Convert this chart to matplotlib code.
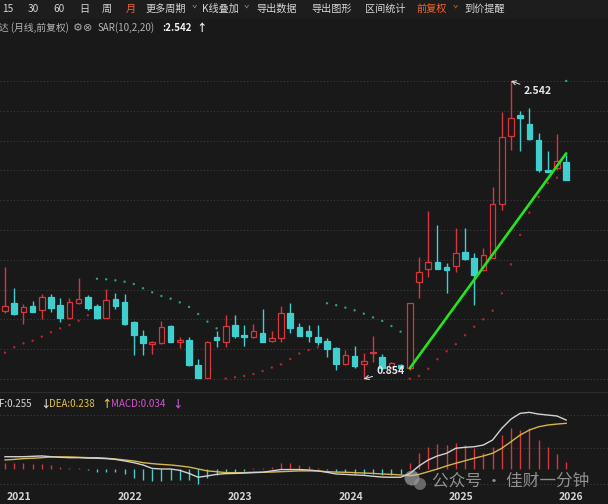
import matplotlib
matplotlib.use('Agg')
import matplotlib.pyplot as plt
from matplotlib.patches import Rectangle, Circle
import matplotlib.transforms as mtransforms
import numpy as np

plt.rcParams['font.family'] = ['Noto Sans CJK SC', 'DejaVu Sans']

# ---------------- data ----------------
year_ticks = [0, 12, 24, 36, 48, 60]
year_labels = ['2021', '2022', '2023', '2024', '2025', '2026']

opens = [1.241, 1.284, 1.232, 1.266, 1.243, 1.318, 1.271, 1.201, 1.283, 1.318,
         1.266, 1.201, 1.305, 1.290, 1.175, 1.098, 1.051, 1.060, 1.156, 1.065,
         1.075, 0.932, 0.862, 1.093, 1.065, 1.160, 1.103, 1.090, 1.116, 1.071,
         1.088, 1.226, 1.150, 1.128, 1.094, 1.069, 1.031, 0.941, 0.986, 0.937,
         1.001, 0.979, 0.922, 0.933, 0.915, 1.405, 1.475, 1.515, 1.488, 1.492,
         1.573, 1.539, 1.471, 1.541, 1.844, 2.232, 2.348, 2.300, 2.208, 2.036,
         2.047, 2.081]
closes = [1.269, 1.220, 1.264, 1.235, 1.317, 1.258, 1.198, 1.288, 1.309, 1.258,
          1.201, 1.300, 1.267, 1.166, 1.103, 1.060, 1.062, 1.150, 1.065, 1.075,
          0.933, 0.860, 1.062, 1.075, 1.156, 1.098, 1.090, 1.124, 1.065, 1.085,
          1.226, 1.141, 1.099, 1.099, 1.065, 1.024, 0.941, 0.990, 0.928, 0.956,
          1.005, 0.915, 0.942, 0.915, 1.282, 1.462, 1.515, 1.479, 1.473, 1.566,
          1.532, 1.443, 1.555, 1.844, 2.223, 2.334, 2.331, 2.212, 2.038, 2.026,
          2.090, 1.981]
highs = [1.490, 1.371, 1.277, 1.298, 1.335, 1.334, 1.311, 1.311, 1.424, 1.330,
         1.281, 1.362, 1.343, 1.334, 1.183, 1.132, 1.068, 1.181, 1.158, 1.094,
         1.090, 0.966, 1.071, 1.127, 1.216, 1.215, 1.160, 1.164, 1.250, 1.126,
         1.267, 1.286, 1.170, 1.160, 1.160, 1.085, 1.034, 1.018, 1.041, 1.000,
         1.099, 0.994, 0.950, 0.939, 1.284, 1.543, 1.806, 1.726, 1.509, 1.708,
         1.708, 1.566, 1.598, 1.943, 2.368, 2.542, 2.374, 2.387, 2.246, 2.147,
         2.242, 2.123]
lows = [1.226, 1.216, 1.164, 1.232, 1.192, 1.235, 1.175, 1.194, 1.279, 1.245,
        1.194, 1.198, 1.249, 1.160, 0.990, 0.990, 0.996, 1.051, 1.063, 1.031,
        0.929, 0.857, 0.859, 1.036, 1.037, 1.088, 1.043, 1.085, 1.062, 1.062,
        1.065, 1.115, 1.099, 1.062, 1.047, 0.980, 0.905, 0.933, 0.918, 0.854,
        0.952, 0.905, 0.911, 0.911, 0.905, 1.315, 1.433, 1.479, 1.339, 1.462,
        1.526, 1.273, 1.466, 1.541, 1.811, 2.151, 2.145, 2.208, 2.025, 2.025,
        2.038, 1.981]
sar = [1.003, 1.034, 1.056, 1.071, 1.094, 1.119, 1.141, 1.160, 1.184, 1.215,
       1.422, 1.419, 1.413, 1.405, 1.392, 1.368, 1.345, 1.324, 1.309, 1.288,
       1.262, 1.222, 1.179, 1.141, 0.857, 0.864, 0.871, 0.882, 0.899, 0.919,
       0.937, 0.967, 0.998, 1.018, 1.034, 1.283, 1.272, 1.258, 1.243, 1.224,
       1.203, 1.183, 1.154, 1.122, 0.856, 0.871, 0.912, 0.966, 1.011, 1.051,
       1.102, 1.150, 1.192, 1.241, 1.339, 1.503, 1.670, 1.796, 1.885, 1.964,
       1.994, 2.542]
dif = [0.064, 0.064, 0.064, 0.066, 0.068, 0.064, 0.061, 0.059, 0.059, 0.057,
       0.056, 0.054, 0.050, 0.042, 0.033, 0.021, 0.003, 0.000, 0.000, -0.007,
       -0.023, -0.043, -0.036, -0.028, -0.024, -0.023, -0.021, -0.019, -0.017, -0.010,
       -0.003, -0.003, -0.003, -0.005, -0.010, -0.017, -0.026, -0.028, -0.031, -0.033,
       -0.038, -0.042, -0.043, -0.043, -0.024, 0.016, 0.047, 0.068, 0.082, 0.108,
       0.113, 0.116, 0.125, 0.151, 0.212, 0.260, 0.290, 0.295, 0.286, 0.281,
       0.276, 0.255]
dea = [0.047, 0.050, 0.054, 0.056, 0.059, 0.063, 0.063, 0.063, 0.061, 0.059,
       0.059, 0.056, 0.052, 0.047, 0.042, 0.033, 0.028, 0.024, 0.021, 0.016,
       0.010, 0.000, -0.010, -0.014, -0.019, -0.019, -0.019, -0.017, -0.017, -0.016,
       -0.014, -0.012, -0.010, -0.010, -0.010, -0.014, -0.016, -0.017, -0.019, -0.021,
       -0.023, -0.026, -0.028, -0.031, -0.035, -0.028, -0.014, 0.000, 0.016, 0.030,
       0.043, 0.056, 0.068, 0.082, 0.108, 0.142, 0.177, 0.203, 0.220, 0.229,
       0.234, 0.238]
macd = [0.030, 0.030, 0.030, 0.024, 0.024, 0.021, 0.009, 0.007, 0.007, -0.007,
        -0.014, -0.014, -0.017, -0.028, -0.045, -0.057, -0.063, -0.063, -0.057, -0.057,
        -0.057, -0.080, -0.049, -0.031, -0.023, -0.017, -0.010, 0.007, 0.007, 0.012,
        0.030, 0.030, 0.021, 0.017, 0.007, -0.007, -0.017, -0.017, -0.024, -0.024,
        -0.024, -0.031, -0.031, -0.028, 0.030, 0.082, 0.116, 0.128, 0.125, 0.134,
        0.125, 0.108, 0.082, 0.116, 0.177, 0.212, 0.203, 0.212, 0.151, 0.116,
        0.076, 0.034]

trend_x = [44, 61]
trend_y = [0.915, 2.132]

price_high_label = '2.542'
price_low_label = '0.854'

toolbar_items = ['15', '30', '60', '日', '周', '月', '更多周期', 'K线叠加',
                 '导出数据', '导出图形', '区间统计', '前复权', '到价提醒']

# ---------------- style ----------------
BG = '#191919'
RED = '#d7363d'
CYAN = '#3fcfcf'
SAR_RED = '#b3262d'
SAR_CYAN = '#23a08e'
GRID = '#3d3d3d'
W, H = 608, 504

fig = plt.figure(figsize=(W / 100, H / 100), dpi=100, facecolor=BG)

n = len(opens)
x = np.arange(n)
xlim = ((0 - 5) / 9.2, (W - 5) / 9.2)

# ---------------- price panel ----------------
ax = fig.add_axes([0, 1 - 390 / H, 1, 350 / H])
ax.set_facecolor(BG)
ax.set_xlim(*xlim)
ax.set_ylim(0.7917, 2.774)
ax.axis('off')

pmin, pmax = min(lows), max(highs)
for k in range(11):
    ax.axhline(pmin + k * (pmax - pmin) / 10, color=GRID, lw=0.8,
               ls=(0, (1, 2)), zorder=0)

bw = 0.62
minh = 0.0057
for i in range(n):
    o, h, l, c = opens[i], highs[i], lows[i], closes[i]
    up = c >= o
    col = RED if up else CYAN
    top, bot = max(o, c), min(o, c)
    ax.vlines(i, top, h, color=col, lw=1.0, zorder=2)
    ax.vlines(i, l, bot, color=col, lw=1.0, zorder=2)
    ax.add_patch(Rectangle((i - bw / 2, bot), bw, max(top - bot, minh),
                           facecolor=BG if up else col, edgecolor=col,
                           lw=0.9, zorder=3))

sar_cols = [SAR_RED if s < c else SAR_CYAN for s, c in zip(sar, closes)]
ax.scatter(x, sar, s=3.0, c=sar_cols, linewidths=0, zorder=4)

ax.plot(trend_x, trend_y, color='#27e21f', lw=1.9, zorder=5,
        solid_capstyle='round')

imax = int(np.argmax(highs))
imin = int(np.argmin(lows))
ax.annotate(price_high_label, xy=(imax, highs[imax]), xytext=(27, -10),
            textcoords='offset pixels', ha='center', va='center',
            color='#e6e6e6', fontsize=7.5, fontweight='bold',
            arrowprops=dict(arrowstyle='->', color='#e6e6e6', lw=0.7,
                            shrinkA=1, shrinkB=0), zorder=6)
ax.annotate(price_low_label, xy=(imin, lows[imin]), xytext=(27, 8),
            textcoords='offset pixels', ha='center', va='center',
            color='#e6e6e6', fontsize=7.5, fontweight='bold',
            arrowprops=dict(arrowstyle='->', color='#e6e6e6', lw=0.7,
                            shrinkA=1, shrinkB=0), zorder=6)

# ---------------- MACD panel ----------------
ax2 = fig.add_axes([0, 1 - 490 / H, 1, 95 / H])
ax2.set_facecolor(BG)
ax2.set_xlim(*xlim)
zero_px, unit_px = 469, 192
ax2.set_ylim((zero_px - 490) / unit_px, (zero_px - 395) / unit_px)
ax2.axis('off')
for ypx in (415, 448, 484):
    ax2.axhline((zero_px - ypx) / unit_px, color=GRID, lw=0.8,
                ls=(0, (1, 2)), zorder=0)
for i in range(n):
    ax2.vlines(i, 0, macd[i], color=RED if macd[i] >= 0 else CYAN, lw=1.0,
               zorder=2)
ax2.plot(x, dea, color='#d6b548', lw=1.0, zorder=3)
ax2.plot(x, dif, color='#d2d2d2', lw=1.0, zorder=4)

trans = mtransforms.blended_transform_factory(ax2.transData, fig.transFigure) + \
    mtransforms.ScaledTranslation(2 / 100, 0, fig.dpi_scale_trans)
for t, lab in zip(year_ticks, year_labels):
    fig.text(t, 1 - 497 / H, lab, transform=trans, ha='left', va='center',
             color='#d4d4d4', fontsize=7.5, fontweight='bold')

# ---------------- overlay (header / texts) ----------------
ov = fig.add_axes([0, 0, 1, 1])
ov.set_xlim(0, W)
ov.set_ylim(H, 0)
ov.axis('off')
ov.patch.set_alpha(0)

ov.add_patch(Rectangle((0, 0), W, 19, facecolor='#1d1d1d', edgecolor='none',
                       zorder=0))
ov.plot([0, W], [392, 392], color='#2c2c2c', lw=0.8)

tb_x = [2, 28, 53.5, 79.5, 101.6, 126, 146, 201.6, 256, 311, 365.5, 416.7, 464]
orange = {'月', '前复权'}
for lab, xx in zip(toolbar_items, tb_x):
    ov.text(xx, 9, lab, ha='left', va='center', fontsize=7.3,
            color='#f0652d' if lab in orange else '#d6d6d6')
for xx, col in ((192, '#9a9a9a'), (244, '#9a9a9a'), (452.7, '#f0652d')):
    ov.text(xx, 9, 'ˇ', ha='left', va='center', fontsize=6.5, color=col)

ov.text(-1, 28, '达 (月线,前复权)', ha='left', va='center', fontsize=7,
        color='#b4b4b4')
ov.text(73, 28, '⚙', ha='left', va='center', fontsize=8, color='#a8a8a8',
        family='DejaVu Sans')
ov.text(83.5, 28, '⊗', ha='left', va='center', fontsize=8, color='#a8a8a8',
        family='DejaVu Sans')
ov.text(98, 28, 'SAR(10,2,20)', ha='left', va='center', fontsize=7,
        color='#b4b4b4')
ov.text(162, 28, ':2.542', ha='left', va='center', fontsize=7,
        color='#f2f2f2', fontweight='bold')
ov.text(196, 28, '↑', ha='left', va='center', fontsize=7.5, color='#f2f2f2',
        fontweight='bold')

ov.text(-1, 404, 'F:0.255', ha='left', va='center', fontsize=7, color='#d6d6d6')
ov.text(40, 404, '↓', ha='left', va='center', fontsize=7.5, color='#d6d6d6',
        fontweight='bold')
ov.text(49.5, 404, 'DEA:0.238', ha='left', va='center', fontsize=7,
        color='#e3c24a')
ov.text(101, 404, '↑', ha='left', va='center', fontsize=7.5, color='#e3c24a',
        fontweight='bold')
ov.text(111, 404, 'MACD:0.034', ha='left', va='center', fontsize=7,
        color='#cf55cf')
ov.text(172, 404, '↓', ha='left', va='center', fontsize=7.5, color='#cf55cf',
        fontweight='bold')

# watermark
ov.add_patch(Circle((412, 478), 7.5, facecolor='#c8c8c8', alpha=0.55,
                    edgecolor='none'))
ov.add_patch(Circle((420, 484), 6, facecolor='#9a9a9a', alpha=0.6,
                    edgecolor='none'))
ov.text(432, 481, '公众号 · 佳财一分钟', ha='left', va='center', fontsize=12,
        color='#b8b8b8', alpha=0.75)

fig.savefig('out.png', dpi=100, facecolor=BG)
